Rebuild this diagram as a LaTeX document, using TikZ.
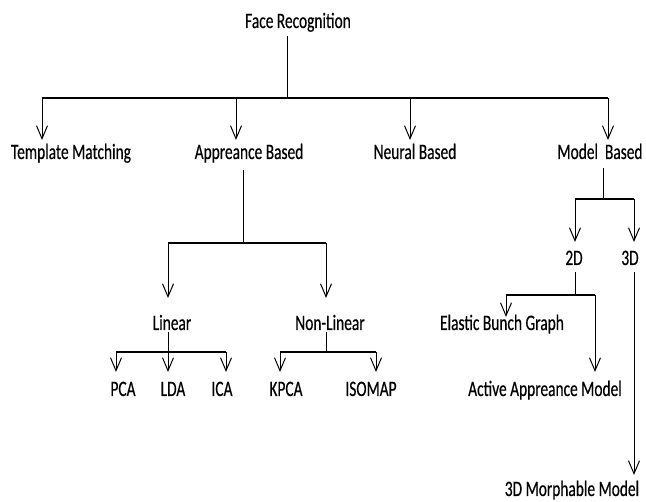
\documentclass[tikz,border=0pt]{standalone}
\usepackage{fontspec}
\setmainfont{Carlito}[FakeStretch=0.7,FakeBold=0.4]
\usetikzlibrary{arrows.meta}

\tikzset{
  lbl/.style={inner sep=0pt, anchor=base, font=\fontsize{22}{26}\selectfont},
  link/.style={line width=1pt},
  bus/.style={line width=1.8pt},
  arr/.style={line width=1pt, -{Straight Barb[length=13pt,width=11pt,line width=1pt]}},
}

\begin{document}
\begin{tikzpicture}[x=1pt,y=-1pt]
  \useasboundingbox (0,0) rectangle (646,502);
  % labels
  \node[lbl] (face) at (298,28) {Face Recognition};
  \node[lbl] (tm) at (71,159) {Template Matching};
  \node[lbl] (ab) at (249,159) {Appreance Based};
  \node[lbl] (nb) at (415,159) {Neural Based};
  \node[lbl] (mb) at (600,159) {Model\ \ Based};
  \node[lbl] (lin) at (172,330) {Linear};
  \node[lbl] (nlin) at (330,330) {Non-Linear};
  \node[lbl] (pca) at (123,396) {PCA};
  \node[lbl] (lda) at (173,396) {LDA};
  \node[lbl] (ica) at (222,396) {ICA};
  \node[lbl] (kpca) at (286,396) {KPCA};
  \node[lbl] (iso) at (371,396) {ISOMAP};
  \node[lbl] (twod) at (574,265) {2D};
  \node[lbl] (threed) at (630,265) {3D};
  \node[lbl] (ebg) at (502,330) {Elastic Bunch Graph};
  \node[lbl] (aam) at (545,396) {Active Appreance Model};
  \node[lbl] (mm) at (572,496) {3D Morphable Model};
  % junctions and arrow tips
  \coordinate (face-out) at (287,36);
  \coordinate (j0) at (287,98);
  \coordinate (tm-in) at (42,140);
  \coordinate (ab-in) at (236,140);
  \coordinate (nb-in) at (410,140);
  \coordinate (mb-in) at (608,140);
  \coordinate (ab-out) at (243,170);
  \coordinate (j1) at (243,243);
  \coordinate (lin-in) at (168,298);
  \coordinate (nlin-in) at (326,298);
  \coordinate (lin-out) at (168,332);
  \coordinate (j2) at (168,352);
  \coordinate (pca-in) at (116,372);
  \coordinate (lda-in) at (168,372);
  \coordinate (ica-in) at (226,372);
  \coordinate (nlin-out) at (326,332);
  \coordinate (j3) at (326,352);
  \coordinate (kpca-in) at (280,372);
  \coordinate (iso-in) at (376,372);
  \coordinate (mb-out) at (603,168);
  \coordinate (j4) at (603,199);
  \coordinate (twod-in) at (575,242);
  \coordinate (threed-in) at (634,242);
  \coordinate (twod-out) at (575,272);
  \coordinate (j5) at (575,295);
  \coordinate (ebg-in) at (506,317);
  \coordinate (aam-in) at (595,372);
  \coordinate (threed-out) at (634,272);
  \coordinate (mm-in) at (634,475);
  % face recognition
  \draw[link] (face-out) -- (j0);
  \draw[bus] (tm-in |- j0) -- (mb-in |- j0);
  \foreach \c in {tm-in,ab-in,nb-in,mb-in}
    \draw[arr] (\c |- j0) -- (\c);
  % appreance based
  \draw[link] (ab-out) -- (j1);
  \draw[bus] (lin-in |- j1) -- (nlin-in |- j1);
  \foreach \c in {lin-in,nlin-in}
    \draw[arr] (\c |- j1) -- (\c);
  % linear
  \draw[link] (lin-out) -- (j2);
  \draw[bus] (pca-in |- j2) -- (ica-in |- j2);
  \foreach \c in {pca-in,lda-in,ica-in}
    \draw[arr] (\c |- j2) -- (\c);
  % non-linear
  \draw[link] (nlin-out) -- (j3);
  \draw[bus] (kpca-in |- j3) -- (iso-in |- j3);
  \foreach \c in {kpca-in,iso-in}
    \draw[arr] (\c |- j3) -- (\c);
  % model based
  \draw[link] (mb-out) -- (j4);
  \draw[bus] (twod-in |- j4) -- (threed-in |- j4);
  \foreach \c in {twod-in,threed-in}
    \draw[arr] (\c |- j4) -- (\c);
  % 2D
  \draw[link] (twod-out) -- (j5);
  \draw[bus] (ebg-in |- j5) -- (aam-in |- j5);
  \foreach \c in {ebg-in,aam-in}
    \draw[arr] (\c |- j5) -- (\c);
  % 3D
  \draw[arr] (threed-out) -- (mm-in);
\end{tikzpicture}
\end{document}
